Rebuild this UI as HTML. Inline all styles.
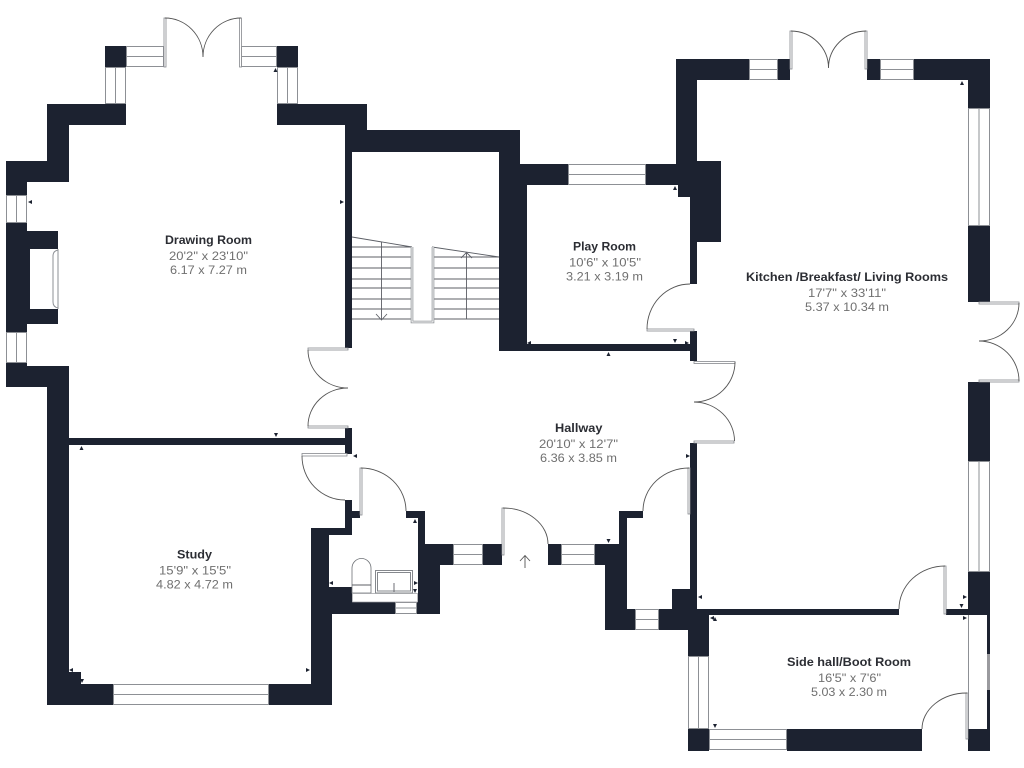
<!DOCTYPE html>
<html>
<head>
<meta charset="utf-8">
<style>
html,body{margin:0;padding:0;background:#fff;width:1024px;height:768px;overflow:hidden}
svg{display:block}
.w{fill:#1c2230;stroke:none}
.win{fill:#fff;stroke:#8d9095;stroke-width:1}
.leaf{fill:#fff;stroke:#85888d;stroke-width:.8}
.arc{fill:none;stroke:#555;stroke-width:.9}
.ln{stroke:#5c5f66;stroke-width:.9;fill:none}
.lg{stroke:#8d9095;stroke-width:1;fill:none}
.t{font:bold 12px "Liberation Sans",sans-serif;fill:#2b2d33}
.d{font:12px "Liberation Sans",sans-serif;fill:#707070}
.m{fill:#1c2230}
</style>
</head>
<body>
<svg width="1024" height="768" viewBox="0 0 1024 768" xmlns="http://www.w3.org/2000/svg">
<rect width="1024" height="768" fill="#fff"/>

<!-- walls -->
<rect class="w" x="105" y="46" width="21" height="21"/>
<rect class="w" x="277" y="46" width="21" height="21"/>
<polygon class="w" points="47,104 126,104 126,125 69,125 69,182 27,182 27,195 6,195 6,161 47,161"/>
<polygon class="w" points="277,104 367,104 367,130 520,130 520,164 568,164 568,185 527,185 527,344 690,344 690,197 678,197 678,185 646,185 646,164 676,164 676,59 749,59 749,80 697,80 697,161 721,161 721,242 697,242 697,284 690,284 690,331 697,331 697,361 690,361 690,351 499,351 499,152 352,152 352,348 345,348 345,125 277,125"/>
<polygon class="w" points="6,223 27,223 27,231 58,231 58,249 30,249 30,309 58,309 58,324 27,324 27,332 6,332"/>
<polygon class="w" points="6,363 27,363 27,366 69,366 69,438 345,438 345,428 352,428 352,454 345,454 345,445 69,445 69,672 81,672 81,684 113,684 113,705 47,705 47,387 6,387"/>
<polygon class="w" points="269,684 311,684 311,528 345,528 345,500 352,500 352,511 360,511 360,518 352,518 352,535 329,535 329,587 352,587 352,602 395,602 395,614 332,614 332,705 269,705"/>
<polygon class="w" points="406,511 425,511 425,544 453,544 453,565 440,565 440,614 417,614 417,602 418,602 418,518 406,518"/>
<rect class="w" x="483" y="544" width="19" height="21"/>
<rect class="w" x="548" y="544" width="13" height="21"/>
<polygon class="w" points="595,544 619,544 619,511 643,511 643,518 627,518 627,609 635,609 635,630 605,630 605,565 595,565"/>
<polygon class="w" points="659,609 659,630 688,630 688,656 709,656 709,615 899,615 899,609 697,609 697,443 690,443 690,589 672,589 672,609"/>
<polygon class="w" points="946,609 968,609 968,572 990,572 990,615 946,615"/>
<rect class="w" x="778" y="59" width="12" height="21"/>
<rect class="w" x="867" y="59" width="13" height="21"/>
<polygon class="w" points="914,59 990,59 990,108 968,108 968,80 914,80"/>
<rect class="w" x="968" y="226" width="22" height="76"/>
<rect class="w" x="968" y="382" width="22" height="79"/>
<rect class="w" x="688" y="729" width="21" height="22"/>
<rect class="w" x="787" y="729" width="135" height="22"/>
<rect class="w" x="968" y="729" width="22" height="22"/>
<rect class="w" x="987" y="615" width="3" height="39"/>
<rect x="987" y="654" width="3" height="36" fill="#9a9a9e"/>
<rect class="w" x="987" y="690" width="3" height="39"/>
<line class="lg" x1="968.5" y1="615" x2="968.5" y2="729"/>

<!-- windows -->
<rect class="win" x="126.500" y="46.500" width="37" height="20"/><line class="lg" x1="126" y1="56.500" x2="164" y2="56.500"/>
<rect class="win" x="241.500" y="46.500" width="35" height="20"/><line class="lg" x1="241" y1="56.500" x2="277" y2="56.500"/>
<rect class="win" x="105.500" y="67.500" width="20" height="36"/><line class="lg" x1="115.500" y1="67" x2="115.500" y2="104"/>
<rect class="win" x="277.500" y="67.500" width="20" height="36"/><line class="lg" x1="287.500" y1="67" x2="287.500" y2="104"/>
<rect class="win" x="6.500" y="195.500" width="20" height="27"/><line class="lg" x1="16.500" y1="195" x2="16.500" y2="223"/>
<rect class="win" x="6.500" y="332.500" width="20" height="30"/><line class="lg" x1="16.500" y1="332" x2="16.500" y2="363"/>
<rect class="win" x="568.500" y="164.500" width="77" height="20"/><line class="lg" x1="568" y1="174.500" x2="646" y2="174.500"/>
<rect class="win" x="749.500" y="59.500" width="28" height="20"/><line class="lg" x1="749" y1="69.500" x2="778" y2="69.500"/>
<rect class="win" x="880.500" y="59.500" width="33" height="20"/><line class="lg" x1="880" y1="69.500" x2="914" y2="69.500"/>
<rect class="win" x="968.500" y="108.500" width="21" height="117"/><line class="lg" x1="979" y1="108" x2="979" y2="226"/>
<rect class="win" x="968.500" y="461.500" width="21" height="110"/><line class="lg" x1="979" y1="461" x2="979" y2="572"/>
<rect class="win" x="113.500" y="684.500" width="155" height="20"/><line class="lg" x1="113" y1="694.500" x2="269" y2="694.500"/>
<rect class="win" x="395.500" y="602.500" width="21" height="11"/><line class="lg" x1="395" y1="608" x2="417" y2="608"/>
<rect class="win" x="453.500" y="544.500" width="29" height="20"/><line class="lg" x1="453" y1="554.500" x2="483" y2="554.500"/>
<rect class="win" x="561.500" y="544.500" width="33" height="20"/><line class="lg" x1="561" y1="554.500" x2="595" y2="554.500"/>
<rect class="win" x="635.500" y="609.500" width="23" height="20"/><line class="lg" x1="635" y1="619.500" x2="659" y2="619.500"/>
<rect class="win" x="688.500" y="656.500" width="20" height="72"/><line class="lg" x1="698.500" y1="656" x2="698.500" y2="729"/>
<rect class="win" x="709.500" y="729.500" width="77" height="20"/><line class="lg" x1="709" y1="739.500" x2="787" y2="739.500"/>

<!-- doors -->
<rect class="leaf" x="164" y="18" width="2" height="49"/>
<rect class="leaf" x="239.500" y="18" width="2" height="49"/>
<path class="arc" d="M165 18 A38 39 0 0 1 203 57 M241 18 A38 39 0 0 0 203 57"/>
<rect class="leaf" x="790" y="31" width="2" height="38"/>
<rect class="leaf" x="865" y="31" width="2" height="38"/>
<path class="arc" d="M791 31 A38 37 0 0 1 828.500 68 M866 31 A38 37 0 0 0 828.500 68"/>
<rect class="leaf" x="979" y="302" width="40" height="2"/>
<rect class="leaf" x="979" y="380" width="40" height="2"/>
<path class="arc" d="M1019 303 A40 38 0 0 1 979 341 M1019 381 A40 40 0 0 0 979 341"/>
<rect class="leaf" x="647" y="329" width="47" height="2"/>
<path class="arc" d="M647 329 A43 45 0 0 1 690 284"/>
<rect class="leaf" x="694" y="361.500" width="41" height="2"/>
<rect class="leaf" x="694" y="441" width="40" height="2"/>
<path class="arc" d="M735 362 A41 40 0 0 1 694 402 M734.500 441 A41 39 0 0 0 694 402"/>
<rect class="leaf" x="308" y="348" width="40" height="2"/>
<rect class="leaf" x="308" y="426" width="40" height="2"/>
<path class="arc" d="M308 350 A40 38 0 0 0 348 388 M308 426 A40 38 0 0 1 348 388"/>
<rect class="leaf" x="302" y="453.500" width="45" height="2.500"/>
<path class="arc" d="M302 456 A43 44 0 0 0 345 500"/>
<rect class="leaf" x="360" y="468" width="2" height="47"/>
<path class="arc" d="M361 468 A45 43 0 0 1 406 511"/>
<rect class="leaf" x="502" y="508" width="2" height="47"/>
<path class="arc" d="M503 508 A45 36 0 0 1 548 544"/>
<rect class="leaf" x="688" y="468" width="2" height="46"/>
<path class="arc" d="M689 468 A46 43 0 0 0 643 511"/>
<rect class="leaf" x="944" y="566" width="2" height="48"/>
<path class="arc" d="M945 566 A46 43 0 0 0 899 609"/>
<rect class="leaf" x="966" y="693" width="2" height="46"/>
<path class="arc" d="M967 693 A45 36 0 0 0 922 729"/>

<!-- fireplace -->
<path class="lg" d="M58 250 Q53 251 53 256 L53 302 Q53 307 58 308 M58 249 L58 309"/>

<!-- stairs -->
<path class="ln" d="M352 237 L412 247 M432 247 L499 257"/>
<path class="ln" d="M352 247H411M352 257H411M352 268H411M352 279H411M352 288H411M352 299H411M352 309H411M352 319H411"/>
<path class="ln" d="M434 257H499M434 268H499M434 279H499M434 288H499M434 299H499M434 309H499M434 319H499"/>
<path class="ln" d="M381.500 242V319M376 314L381.500 320L387 314M466.500 252V319M461 258L466.500 252.500L472 258"/>
<path d="M412 247V322H433V247" fill="none" stroke="#8d9095" stroke-width="2.600"/>
<path d="M412 247V322H433V247" fill="none" stroke="#fff" stroke-width="1"/>

<!-- entry arrow -->
<path d="M525 556V568M520 561L525 555.500L530 561" fill="none" stroke="#555" stroke-width=".9"/>

<!-- WC -->
<path d="M352 593V568 A9.500 9.500 0 0 1 371 568V593Z" fill="#fff" stroke="#6f7277" stroke-width=".8"/>
<line class="ln" x1="352" y1="585" x2="371" y2="585"/>
<rect x="375.500" y="570.500" width="37" height="22.500" fill="#fff" stroke="#85888d" stroke-width="1"/>
<rect x="377.500" y="572.500" width="33" height="18.500" fill="#fff" stroke="#85888d" stroke-width="1"/>
<line class="ln" x1="394" y1="583" x2="394" y2="592"/>
<rect x="352.500" y="593.500" width="65" height="8.500" fill="#fff" stroke="#9a9ca0" stroke-width=".7"/>

<!-- small dimension arrowheads -->
<g class="m">
<polygon points="28,202 32,200 32,204"/>
<polygon points="344,202 340,200 340,204"/>
<polygon points="275.500,68 273.500,72 277.500,72"/>
<polygon points="962,81 960,85 964,85"/>
<polygon points="675,186 673,190 677,190"/>
<polygon points="527,343 531,341 531,345"/>
<polygon points="675,343 673,339 677,339"/>
<polygon points="689,343 685,341 685,345"/>
<polygon points="608.500,352 606.500,356 610.500,356"/>
<polygon points="276,437 274,433 278,433"/>
<polygon points="81.500,446 79.500,450 83.500,450"/>
<polygon points="353,456 357,454 357,458"/>
<polygon points="69,670 73,668 73,672"/>
<polygon points="82,683 80,679 84,679"/>
<polygon points="310,670 306,668 306,672"/>
<polygon points="329,583 333,581 333,585"/>
<polygon points="415,519 413,523 417,523"/>
<polygon points="418,583 414,581 414,585"/>
<polygon points="415,593 413,589 417,589"/>
<polygon points="608.500,543 606.500,539 610.500,539"/>
<polygon points="690,456 686,454 686,458"/>
<polygon points="698,597 702,595 702,599"/>
<polygon points="967,597 963,595 963,599"/>
<polygon points="961.500,608 959.500,604 963.500,604"/>
<polygon points="967,618 963,616 963,620"/>
<polygon points="710,618 714,616 714,620"/>
<polygon points="715,617 713,621 717,621"/>
<polygon points="715,728 713,724 717,724"/>
</g>

<!-- labels -->
<text class="t" x="165" y="244" textLength="87" lengthAdjust="spacingAndGlyphs">Drawing Room</text>
<text class="d" x="169" y="260" textLength="79" lengthAdjust="spacingAndGlyphs">20'2" x 23'10"</text>
<text class="d" x="170" y="274" textLength="77" lengthAdjust="spacingAndGlyphs">6.17 x 7.27 m</text>

<text class="t" x="573" y="250.500" textLength="63" lengthAdjust="spacingAndGlyphs">Play Room</text>
<text class="d" x="569" y="266.500" textLength="72" lengthAdjust="spacingAndGlyphs">10'6" x 10'5"</text>
<text class="d" x="566" y="280.500" textLength="77" lengthAdjust="spacingAndGlyphs">3.21 x 3.19 m</text>

<text class="t" x="746" y="281" textLength="202" lengthAdjust="spacingAndGlyphs">Kitchen /Breakfast/ Living Rooms</text>
<text class="d" x="808" y="297" textLength="78" lengthAdjust="spacingAndGlyphs">17'7" x 33'11"</text>
<text class="d" x="805" y="311" textLength="84" lengthAdjust="spacingAndGlyphs">5.37 x 10.34 m</text>

<text class="t" x="555" y="432" textLength="47.500" lengthAdjust="spacingAndGlyphs">Hallway</text>
<text class="d" x="539" y="448" textLength="79" lengthAdjust="spacingAndGlyphs">20'10" x 12'7"</text>
<text class="d" x="540" y="462" textLength="77" lengthAdjust="spacingAndGlyphs">6.36 x 3.85 m</text>

<text class="t" x="177" y="558.500" textLength="35" lengthAdjust="spacingAndGlyphs">Study</text>
<text class="d" x="159" y="574.500" textLength="72" lengthAdjust="spacingAndGlyphs">15'9" x 15'5"</text>
<text class="d" x="156" y="588.500" textLength="77" lengthAdjust="spacingAndGlyphs">4.82 x 4.72 m</text>

<text class="t" x="787" y="666" textLength="124" lengthAdjust="spacingAndGlyphs">Side hall/Boot Room</text>
<text class="d" x="818" y="682" textLength="63" lengthAdjust="spacingAndGlyphs">16'5" x 7'6"</text>
<text class="d" x="811" y="696" textLength="76" lengthAdjust="spacingAndGlyphs">5.03 x 2.30 m</text>
</svg>
</body>
</html>
